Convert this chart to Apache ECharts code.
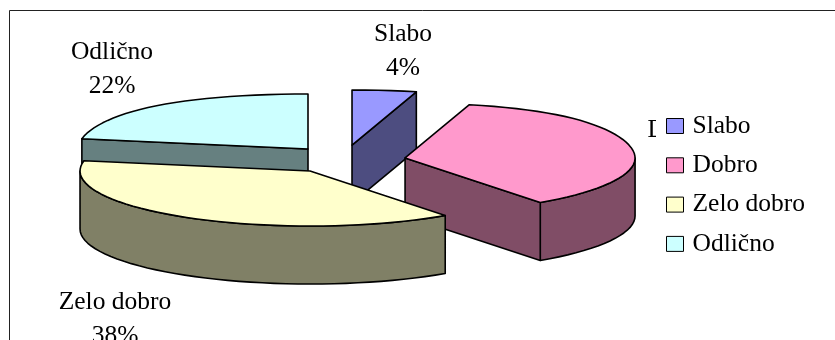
<!DOCTYPE html>
<html>
<head>
<meta charset="utf-8">
<style>html,body{margin:0;padding:0;background:#fff;overflow:hidden}#chart{width:835px;height:340px}</style>
<script src="https://cdn.jsdelivr.net/npm/echarts@6/dist/echarts.min.js"></script>
</head>
<body>
<div id="chart"></div>
<script>
// Grades and their shares, in percent
const categories = ['Slabo', 'Dobro', 'Zelo dobro', 'Odlično'];
const shares = [4, 36, 38, 22];
const topColors = ['#9999FF', '#FF99CC', '#FFFFCC', '#CCFFFF'];
const sideColors = ['#4D4D80', '#804D66', '#808066', '#668080'];
// Paint order: the slices nearest the viewer go last
const paintOrder = [3, 0, 1, 2];

// Pie layout in pixels; each slice is pulled out along its mid-angle
const pie = { cx: 347, cy: 159, rx: 230, ry: 55, depth: 58, backFlare: 0.137 };
const explodeX = [0.174, 0.257, 0.30, 0.266];
const explodeY = [0.256, 0.10, 0.259, 0.236];
const labelCenters = [[403, 51], [680, 147], [115, 319], [112, 69]];
const font = '25.5px "Liberation Serif"';

const total = shares.reduce((a, b) => a + b, 0);
const starts = [];
shares.reduce((sum, v, i) => { starts[i] = sum; return sum + v; }, 0);

const rad = d => d * Math.PI / 180;
// Rim of the tilted disc; the far side is drawn slightly wider for the 3D view
const rimPoint = (o, deg, drop) => {
  const c = Math.cos(rad(deg));
  const flare = 1 + pie.backFlare * Math.pow(Math.max(c, 0), 3);
  return [o[0] + pie.rx * flare * Math.sin(rad(deg)), o[1] - pie.ry * c + drop];
};
const outline = { stroke: '#000', lineWidth: 1.6, lineJoin: 'round' };

function arc(o, from, to, drop) {
  const pts = [];
  const n = Math.max(2, Math.ceil((to - from) / 3));
  for (let k = 0; k <= n; k++) pts.push(rimPoint(o, from + (to - from) * k / n, drop));
  return pts;
}

function poly(points, fill) {
  return { type: 'polygon', shape: { points }, style: Object.assign({ fill }, outline) };
}

// Extruded wedge: outer wall, cut faces that look towards the viewer, then the top
function renderSlice(i, params, api) {
  const from = starts[i] / total * 360;
  const to = from + api.value(0) / total * 360;
  const mid = (from + to) / 2;
  const apex = [
    pie.cx + explodeX[i] * pie.rx * Math.sin(rad(mid)),
    pie.cy - explodeY[i] * pie.ry * Math.cos(rad(mid))
  ];
  const children = [];
  const side = sideColors[i];

  const wallFrom = Math.max(from, 90);
  const wallTo = Math.min(to, 270);
  if (wallTo > wallFrom) {
    const upper = arc(apex, wallFrom, wallTo, 0);
    const lower = arc(apex, wallFrom, wallTo, pie.depth).reverse();
    children.push(poly(upper.concat(lower), side));
  }
  const cutFace = deg => {
    const r = rimPoint(apex, deg, 0);
    return poly([apex, r, [r[0], r[1] + pie.depth], [apex[0], apex[1] + pie.depth]], side);
  };
  if (from > 180 && from < 360) children.push(cutFace(from));
  if (to > 0 && to < 180) children.push(cutFace(to));

  children.push(poly([apex].concat(arc(apex, from, to, 0)), topColors[i]));

  const c = labelCenters[i];
  children.push({
    type: 'text',
    style: {
      x: c[0], y: c[1],
      text: categories[i] + '\n' + api.value(0) + '%',
      font, fill: '#000', align: 'center', verticalAlign: 'middle', lineHeight: 34
    }
  });
  return { type: 'group', children };
}

const chart = echarts.init(document.getElementById('chart'), null, { renderer: 'canvas' });
chart.setOption({
  animation: false,
  backgroundColor: '#fff',
  graphic: [{
    type: 'rect', z: 0,
    shape: { x: 9.5, y: 10.5, width: 900, height: 400 },
    style: { fill: 'none', stroke: '#222', lineWidth: 1 }
  }],
  legend: {
    data: categories,
    orient: 'vertical',
    left: 656,
    top: 105,
    z: 100,
    padding: [8, 6, 8, 10],
    backgroundColor: '#fff',
    selectedMode: false,
    icon: 'rect',
    itemWidth: 17,
    itemHeight: 15,
    itemGap: 13.3,
    itemStyle: { borderColor: '#000', borderWidth: 1 },
    textStyle: { fontFamily: 'Liberation Serif', fontSize: 25.5, color: '#000', lineHeight: 25, padding: [0, 0, 0, 4] }
  },
  series: paintOrder.map((i, order) => ({
    type: 'custom',
    name: categories[i],
    coordinateSystem: 'none',
    z: 2 + order,
    silent: true,
    itemStyle: { color: topColors[i] },
    data: [[shares[i]]],
    renderItem: (params, api) => renderSlice(i, params, api)
  }))
});
</script>
</body>
</html>
